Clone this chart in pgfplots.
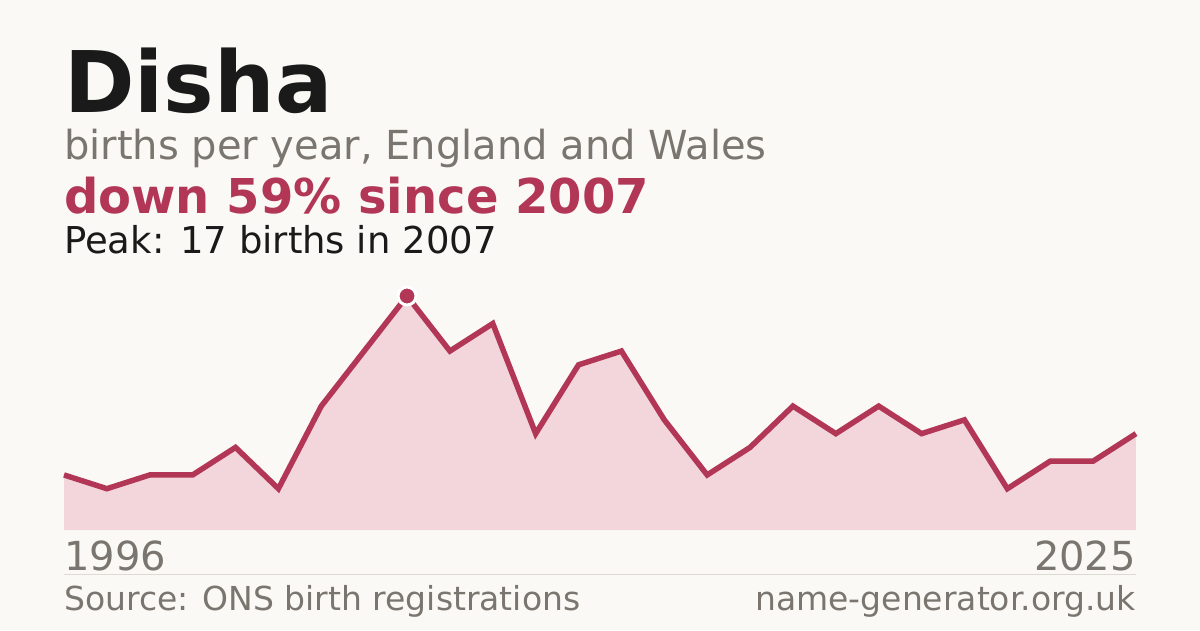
\documentclass[border=0pt]{standalone}
\usepackage{pgfplots}
\pgfplotsset{compat=1.18}
\usepackage{fontspec}
\setmainfont{DejaVu Sans}
\definecolor{bg}{HTML}{FAF9F5}
\definecolor{linec}{HTML}{B23656}
\definecolor{fillc}{HTML}{F2D6DC}
\definecolor{graytxt}{HTML}{7A756E}
\definecolor{titlec}{HTML}{1A1A1A}
\definecolor{sepc}{HTML}{DDDAD4}
\pgfplotstableread{
idx val
0 4
1 3
2 4
3 4
4 6
5 3
6 9
7 13
8 17
9 13
10 15
11 7
12 12
13 13
14 8
15 4
16 6
17 9
18 7
19 9
20 7
21 8
22 3
23 5
24 5
25 7
}\births
\begin{document}
\begin{tikzpicture}[x=1pt,y=1pt]
\fill[bg] (0,0) rectangle (1200,630);
\node[anchor=base west, inner sep=0, text=titlec, font=\fontsize{85}{85}\selectfont\bfseries] at (64,630-113) {Disha};
\node[anchor=base west, inner sep=0, text=graytxt, font=\fontsize{40}{40}\selectfont] at (64,630-160) {births per year, England and Wales};
\node[anchor=base west, inner sep=0, text=linec, font=\fontsize{48}{48}\selectfont\bfseries] at (64,630-214) {down 59\% since 2007};
\node[anchor=base west, inner sep=0, text=titlec, font=\fontsize{37}{37}\selectfont] at (64,630-254) {Peak: 17 births in 2007};
\begin{axis}[at={(64pt,100pt)}, anchor=south west, scale only axis,
  width=1072pt, height=234pt, xmin=0, xmax=25, ymin=0, ymax=17,
  hide axis, clip=false]
\addplot[fill=fillc, draw=none] table[x=idx,y=val] {\births} \closedcycle;
\addplot[linec, line width=5.5pt, line join=miter, mark=none] table[x=idx,y=val] {\births};
\addplot[only marks, mark=*, mark size=9pt, mark options={fill=linec, draw=white, line width=3pt}] coordinates {(8,17)};
\end{axis}
\node[anchor=base west, inner sep=0, text=graytxt, font=\fontsize{40}{40}\selectfont] at (64,630-570) {1996};
\node[anchor=base east, inner sep=0, text=graytxt, font=\fontsize{40}{40}\selectfont] at (1136,630-570) {2025};
\draw[sepc, line width=1pt] (64,630-574.5) -- (1136,630-574.5);
\node[anchor=base west, inner sep=0, text=graytxt, font=\fontsize{33}{33}\selectfont] at (64,630-610) {Source: ONS birth registrations};
\node[anchor=base east, inner sep=0, text=graytxt, font=\fontsize{33}{33}\selectfont] at (1136,630-610) {name-generator.org.uk};
\end{tikzpicture}
\end{document}
